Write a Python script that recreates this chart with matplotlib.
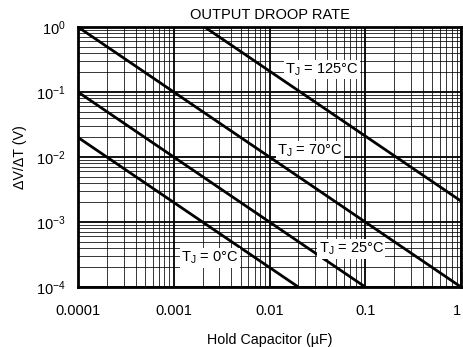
import matplotlib
matplotlib.use("Agg")
import matplotlib.pyplot as plt
from matplotlib.ticker import LogLocator, FixedLocator, NullFormatter

plt.rcParams["font.family"] = ["Liberation Sans", "DejaVu Sans"]
plt.rcParams["mathtext.fontset"] = "custom"
plt.rcParams["mathtext.rm"] = "Liberation Sans"
plt.rcParams["mathtext.it"] = "Liberation Sans"

# droop lines (slope -1 on log-log)
temps = ["125°C", "70°C", "25°C", "0°C"]
x_start = [0.0021, 0.0001, 0.0001, 0.0001]
y_start = [1.0, 1.0, 0.1, 0.02]
x_end = [1.0, 1.0, 0.1, 0.02]
y_end = [0.0021, 0.0001, 0.0001, 0.0001]

# label anchor points (data coords)
label_x = [0.0355, 0.0265, 0.0714, 0.00237]
label_y = [0.22, 0.0125, 0.000385, 0.00028]

x_ticks = [0.0001, 0.001, 0.01, 0.1, 1]
x_ticklabels = ["0.0001", "0.001", "0.01", "0.1", "1"]
y_ticks = [1e-4, 1e-3, 1e-2, 1e-1, 1]
y_ticklabels = ["$10^{-4}$", "$10^{-3}$", "$10^{-2}$", "$10^{-1}$", "$10^{0}$"]

fig = plt.figure(figsize=(4.63, 3.47), dpi=100)
ax = fig.add_axes([78 / 463, 1 - 287 / 347, (461 - 78) / 463, (287 - 27) / 347])
ax.set_xscale("log")
ax.set_yscale("log")
ax.set_xlim(1e-4, 1)
ax.set_ylim(1e-4, 1)

ax.xaxis.set_major_locator(FixedLocator(x_ticks))
ax.yaxis.set_major_locator(FixedLocator(y_ticks))
ax.xaxis.set_minor_locator(LogLocator(base=10, subs=range(2, 10), numticks=20))
ax.yaxis.set_minor_locator(LogLocator(base=10, subs=range(2, 10), numticks=20))
ax.xaxis.set_minor_formatter(NullFormatter())
ax.yaxis.set_minor_formatter(NullFormatter())
ax.set_xticklabels(x_ticklabels, fontsize=10.5)
ax.set_yticklabels(y_ticklabels, fontsize=10.5)
ax.get_xticklabels()[-1].set_horizontalalignment("right")
ax.tick_params(axis="x", which="both", length=0, pad=12)
ax.tick_params(axis="y", which="both", length=0, pad=9)

ax.grid(which="major", color="black", lw=1.3)
ax.grid(which="minor", color="black", lw=0.55)
ax.set_axisbelow(True)
for s in ax.spines.values():
    s.set_linewidth(2)

for xs, ys, xe, ye in zip(x_start, y_start, x_end, y_end):
    ax.plot([xs, xe], [ys, ye], color="black", lw=2, solid_capstyle="butt")

for t, lx, ly in zip(temps, label_x, label_y):
    ax.text(lx, ly, "T$_{\\mathrm{J}}$ = " + t, fontsize=10.5, ha="center", va="center",
            bbox=dict(facecolor="white", edgecolor="none", pad=1.0))

ax.set_title("OUTPUT DROOP RATE", fontsize=10.5, pad=6)
ax.set_xlabel("Hold Capacitor (µF)", fontsize=10.3, labelpad=11)
ax.set_ylabel("ΔV/ΔT (V)", fontsize=10.3, labelpad=6)

fig.savefig("out.png", dpi=100)
